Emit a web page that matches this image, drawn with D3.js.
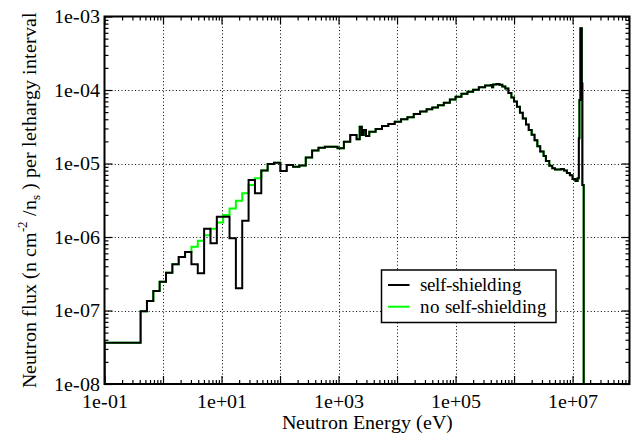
<!DOCTYPE html>
<html>
<head>
<meta charset="utf-8">
<script src="https://cdn.jsdelivr.net/npm/d3@7"></script>
<style>
  @font-face { font-family: "ChartSerif"; src: local("Liberation Serif"), local("LiberationSerif"), local("LiberationSerif-Regular"); }
  body { margin: 0; background: #fff; }
  #chart { display: block; }
  #chart text, #chart .tick text { font-family: "ChartSerif", "Liberation Serif", "DejaVu Serif", serif !important; }
</style>
</head>
<body>
<svg id="chart" width="631" height="435"></svg>
<script>
// Group boundaries (eV) of the flux spectrum, low to high energy
const energyEdges = [
  0.1, 0.414, 0.5316, 0.6826, 0.8764, 1.125, 1.445, 1.855, 2.382, 3.059,
  3.928, 5.043, 6.476, 8.315, 10.68, 13.71, 17.60, 22.60, 29.02, 37.27,
  47.85, 61.44, 78.89, 101.3, 130.1, 167.0, 214.4, 275.4, 353.6, 454.0,
  582.9, 748.5, 961.1, 1234, 1585, 2035, 2300, 2500, 2700, 2950,
  3354, 4307, 5531, 7101, 9118, 11710, 15030, 19300, 24790, 32000,
  40000, 50000, 63000, 80000, 1.0e5, 1.26e5, 1.6e5, 2.0e5, 2.5e5, 3.2e5,
  4.0e5, 4.2e5, 4.4e5, 5.0e5, 5.6e5, 6.3e5, 7.1e5, 8.0e5, 9.0e5, 1.0e6,
  1.12e6, 1.26e6, 1.41e6, 1.6e6, 1.78e6, 2.0e6, 2.24e6, 2.5e6, 2.8e6, 3.2e6,
  3.5e6, 4.0e6, 4.5e6, 5.0e6, 5.6e6, 6.3e6, 7.1e6, 8.0e6, 9.0e6, 1.0e7,
  1.12e7, 1.22e7, 1.28e7, 1.31e7, 1.36e7, 1.44e7, 1.47e7, 1.55e7, 2.0e7
];

// Flux per lethargy interval in each group, with self-shielding
const selfShielding = [
  3.65e-8, 9.75e-8, 1.35e-7, 1.84e-7, 2.47e-7, 3.27e-7, 4.25e-7, 5.35e-7, 6.25e-7, 4.25e-7,
  3.2e-7, 1.29e-6, 8.2e-7, 1.89e-6, 1.89e-6, 9.6e-7, 2.0e-7, 1.67e-6, 5.96e-6, 3.93e-6,
  8.0e-6, 9.84e-6, 1.02e-5, 7.9e-6, 9.55e-6, 9.06e-6, 9.4e-6, 1.21e-5, 1.50e-5, 1.64e-5,
  1.69e-5, 1.69e-5, 1.61e-5, 1.98e-5, 2.44e-5, 2.13e-5, 3.17e-5, 2.44e-5, 2.86e-5, 2.37e-5,
  2.71e-5, 2.95e-5, 3.24e-5, 3.45e-5, 3.71e-5, 3.99e-5, 4.25e-5, 4.71e-5, 5.1e-5, 5.47e-5,
  5.8e-5, 6.2e-5, 6.73e-5, 7.4e-5, 8.1e-5, 8.9e-5, 9.5e-5, 1.01e-4, 1.09e-4, 1.15e-4,
  1.17e-4, 1.09e-4, 1.19e-4, 1.21e-4, 1.18e-4, 1.12e-4, 1.05e-4, 9.1e-5, 7.9e-5, 7.0e-5,
  5.9e-5, 4.9e-5, 4.1e-5, 3.4e-5, 2.85e-5, 2.47e-5, 2.07e-5, 1.72e-5, 1.46e-5, 1.26e-5,
  1.08e-5, 9.3e-6, 8.6e-6, 8.3e-6, 8.3e-6, 8.4e-6, 8.0e-6, 7.4e-6, 6.9e-6, 6.15e-6,
  5.8e-6, 6.3e-6, 2.2e-5, 7.3e-5, 6.9e-4, 1.23e-4, 5.1e-6, 1e-12
];

// Flux per lethargy interval in each group, without self-shielding
const noSelfShielding = [
  3.65e-8, 9.75e-8, 1.35e-7, 1.84e-7, 2.47e-7, 3.27e-7, 4.25e-7, 5.35e-7, 6.25e-7, 7.38e-7,
  8.9e-7, 1.06e-6, 1.29e-6, 1.57e-6, 1.99e-6, 2.45e-6, 3.12e-6, 3.93e-6, 5.1e-6, 6.28e-6,
  8.0e-6, 9.84e-6, 1.02e-5, 7.9e-6, 9.55e-6, 9.06e-6, 9.4e-6, 1.21e-5, 1.50e-5, 1.64e-5,
  1.69e-5, 1.69e-5, 1.61e-5, 1.98e-5, 2.44e-5, 2.13e-5, 3.17e-5, 2.44e-5, 2.86e-5, 2.37e-5,
  2.71e-5, 2.95e-5, 3.24e-5, 3.45e-5, 3.71e-5, 3.99e-5, 4.25e-5, 4.71e-5, 5.1e-5, 5.47e-5,
  5.8e-5, 6.2e-5, 6.73e-5, 7.4e-5, 8.1e-5, 8.9e-5, 9.5e-5, 1.01e-4, 1.09e-4, 1.15e-4,
  1.17e-4, 1.09e-4, 1.19e-4, 1.21e-4, 1.18e-4, 1.12e-4, 1.05e-4, 9.1e-5, 7.9e-5, 7.0e-5,
  5.9e-5, 4.9e-5, 4.1e-5, 3.4e-5, 2.85e-5, 2.47e-5, 2.07e-5, 1.72e-5, 1.46e-5, 1.26e-5,
  1.08e-5, 9.3e-6, 8.6e-6, 8.3e-6, 8.3e-6, 8.4e-6, 8.0e-6, 7.4e-6, 6.9e-6, 6.15e-6,
  5.8e-6, 6.3e-6, 2.2e-5, 7.3e-5, 6.9e-4, 1.23e-4, 5.1e-6, 1e-12
];

const xLabelValues = [1e-1, 1e1, 1e3, 1e5, 1e7];
const yLabelValues = [1e-8, 1e-7, 1e-6, 1e-5, 1e-4, 1e-3];
const seriesNames = ["self-shielding", "no self-shielding"];
const seriesColors = ["#000000", "#00ff00"];

const SERIF = '"ChartSerif", "Liberation Serif", "DejaVu Serif", serif';
const svg = d3.select("#chart");
const box = { left: 104.5, right: 629.5, top: 16.5, bottom: 384 };

const x = d3.scaleLog().domain([0.1, 9.4e7]).range([box.left, box.right]);
const y = d3.scaleLog().domain([1e-8, 1e-3]).range([box.bottom, box.top]);

// label text like 1e-03 / 1e+05
const expFmt = v => {
  const p = Math.round(Math.log10(v));
  return "1e" + (p < 0 ? "-" : "+") + String(Math.abs(p)).padStart(2, "0");
};
const isDecade = v => Math.abs(Math.log10(v) - Math.round(Math.log10(v))) < 1e-9;

const xAll = x.ticks();
const yAll = y.ticks();
const xMajor = xAll.filter(isDecade), xMinor = xAll.filter(v => !isDecade(v));
const yMajor = yAll.filter(isDecade), yMinor = yAll.filter(v => !isDecade(v));

// dotted grid at inner decades
const grid = svg.append("g").attr("stroke", "#000").attr("stroke-width", 1)
  .attr("stroke-dasharray", "1,2.4");
grid.selectAll(".gx").data(xMajor.filter(v => v > 0.1 * 1.0001)).join("line")
  .attr("x1", d => Math.round(x(d)) + 0.5).attr("x2", d => Math.round(x(d)) + 0.5)
  .attr("y1", box.top).attr("y2", box.bottom);
grid.selectAll(".gy").data(yMajor.filter(v => v > 1e-8 * 1.0001 && v < 1e-3 * 0.9999)).join("line")
  .attr("y1", d => Math.round(y(d)) + 0.5).attr("y2", d => Math.round(y(d)) + 0.5)
  .attr("x1", box.left).attr("x2", box.right);

// clip for the data curves
svg.append("clipPath").attr("id", "plotClip").append("rect")
  .attr("x", box.left).attr("y", box.top)
  .attr("width", box.right - box.left).attr("height", box.bottom - box.top);

const stepLine = d3.line().curve(d3.curveStepAfter)
  .x(d => x(d[0])).y(d => y(d[1]));

function stepPoints(values) {
  const pts = [[energyEdges[0], y.domain()[0] / 10]];
  values.forEach((v, i) => pts.push([energyEdges[i], v]));
  pts.push([energyEdges[energyEdges.length - 1], values[values.length - 1]]);
  return pts;
}

const curves = svg.append("g").attr("clip-path", "url(#plotClip)");
[[noSelfShielding, seriesColors[1]], [selfShielding, seriesColors[0]]].forEach(([vals, col]) => {
  curves.append("path")
    .attr("d", stepLine(stepPoints(vals)))
    .attr("fill", "none")
    .attr("stroke", col)
    .attr("stroke-width", 2)
    .attr("stroke-linejoin", "miter");
});

// axes with inward ticks on all four sides
function styleAxis(g) {
  g.attr("font-family", null);
  g.select(".domain").remove();
  g.selectAll(".tick line").attr("stroke", "#000").attr("stroke-width", 1.2);
  g.selectAll("text").attr("font-size", 20).attr("fill", "#000")
    .style("font-family", SERIF, "important");
}
const MAJ = 8, MIN = 4;

svg.append("g").attr("transform", `translate(0,${box.bottom})`)
  .call(d3.axisBottom(x).tickValues(xMajor).tickSize(-MAJ).tickPadding(10)
    .tickFormat(d => xLabelValues.some(v => Math.abs(Math.log10(v) - Math.log10(d)) < 1e-9) ? expFmt(d) : ""))
  .call(styleAxis);
svg.append("g").attr("transform", `translate(0,${box.bottom})`)
  .call(d3.axisBottom(x).tickValues(xMinor).tickSize(-MIN).tickFormat(""))
  .call(styleAxis);
svg.append("g").attr("transform", `translate(0,${box.top})`)
  .call(d3.axisTop(x).tickValues(xMajor).tickSize(-MAJ).tickFormat(""))
  .call(styleAxis);
svg.append("g").attr("transform", `translate(0,${box.top})`)
  .call(d3.axisTop(x).tickValues(xMinor).tickSize(-MIN).tickFormat(""))
  .call(styleAxis);

svg.append("g").attr("transform", `translate(${box.left},0)`)
  .call(d3.axisLeft(y).tickValues(yLabelValues).tickSize(-MAJ).tickPadding(4.5).tickFormat(expFmt))
  .call(styleAxis);
svg.append("g").attr("transform", `translate(${box.left},0)`)
  .call(d3.axisLeft(y).tickValues(yMinor).tickSize(-MIN).tickFormat(""))
  .call(styleAxis);
svg.append("g").attr("transform", `translate(${box.right},0)`)
  .call(d3.axisRight(y).tickValues(yMajor).tickSize(-MAJ).tickFormat(""))
  .call(styleAxis);
svg.append("g").attr("transform", `translate(${box.right},0)`)
  .call(d3.axisRight(y).tickValues(yMinor).tickSize(-MIN).tickFormat(""))
  .call(styleAxis);

// frame
svg.append("rect")
  .attr("x", box.left).attr("y", box.top)
  .attr("width", box.right - box.left).attr("height", box.bottom - box.top)
  .attr("fill", "none").attr("stroke", "#000").attr("stroke-width", 2);

// axis titles
svg.append("text")
  .attr("x", (box.left + box.right) / 2).attr("y", 429)
  .attr("text-anchor", "middle").attr("font-size", 20)
  .text("Neutron Energy (eV)");

const yt = svg.append("text")
  .attr("transform", `translate(35.5,${(box.top + box.bottom) / 2}) rotate(-90)`)
  .attr("text-anchor", "middle").attr("font-size", 20);
yt.append("tspan").text("Neutron flux (n cm");
yt.append("tspan").attr("font-size", 13).attr("dy", -9).text("-2");
yt.append("tspan").attr("font-size", 20).attr("dy", 9).text(" /n");
yt.append("tspan").attr("font-size", 13).attr("dy", 4).text("s");
yt.append("tspan").attr("font-size", 20).attr("dy", -4).text(" ) per lethargy interval");

// legend
const lg = svg.append("g");
lg.append("rect")
  .attr("x", 381.5).attr("y", 270).attr("width", 174.5).attr("height", 52.5)
  .attr("fill", "#fff").attr("stroke", "#000").attr("stroke-width", 1.5);
seriesNames.forEach((name, i) => {
  const cy = 285 + i * 21.7;
  lg.append("line").attr("x1", 388).attr("x2", 409.5).attr("y1", cy).attr("y2", cy)
    .attr("stroke", seriesColors[i]).attr("stroke-width", 2);
  lg.append("text").attr("x", 420).attr("y", cy + 6).attr("font-size", 18.8).text(name);
});
</script>
</body>
</html>
